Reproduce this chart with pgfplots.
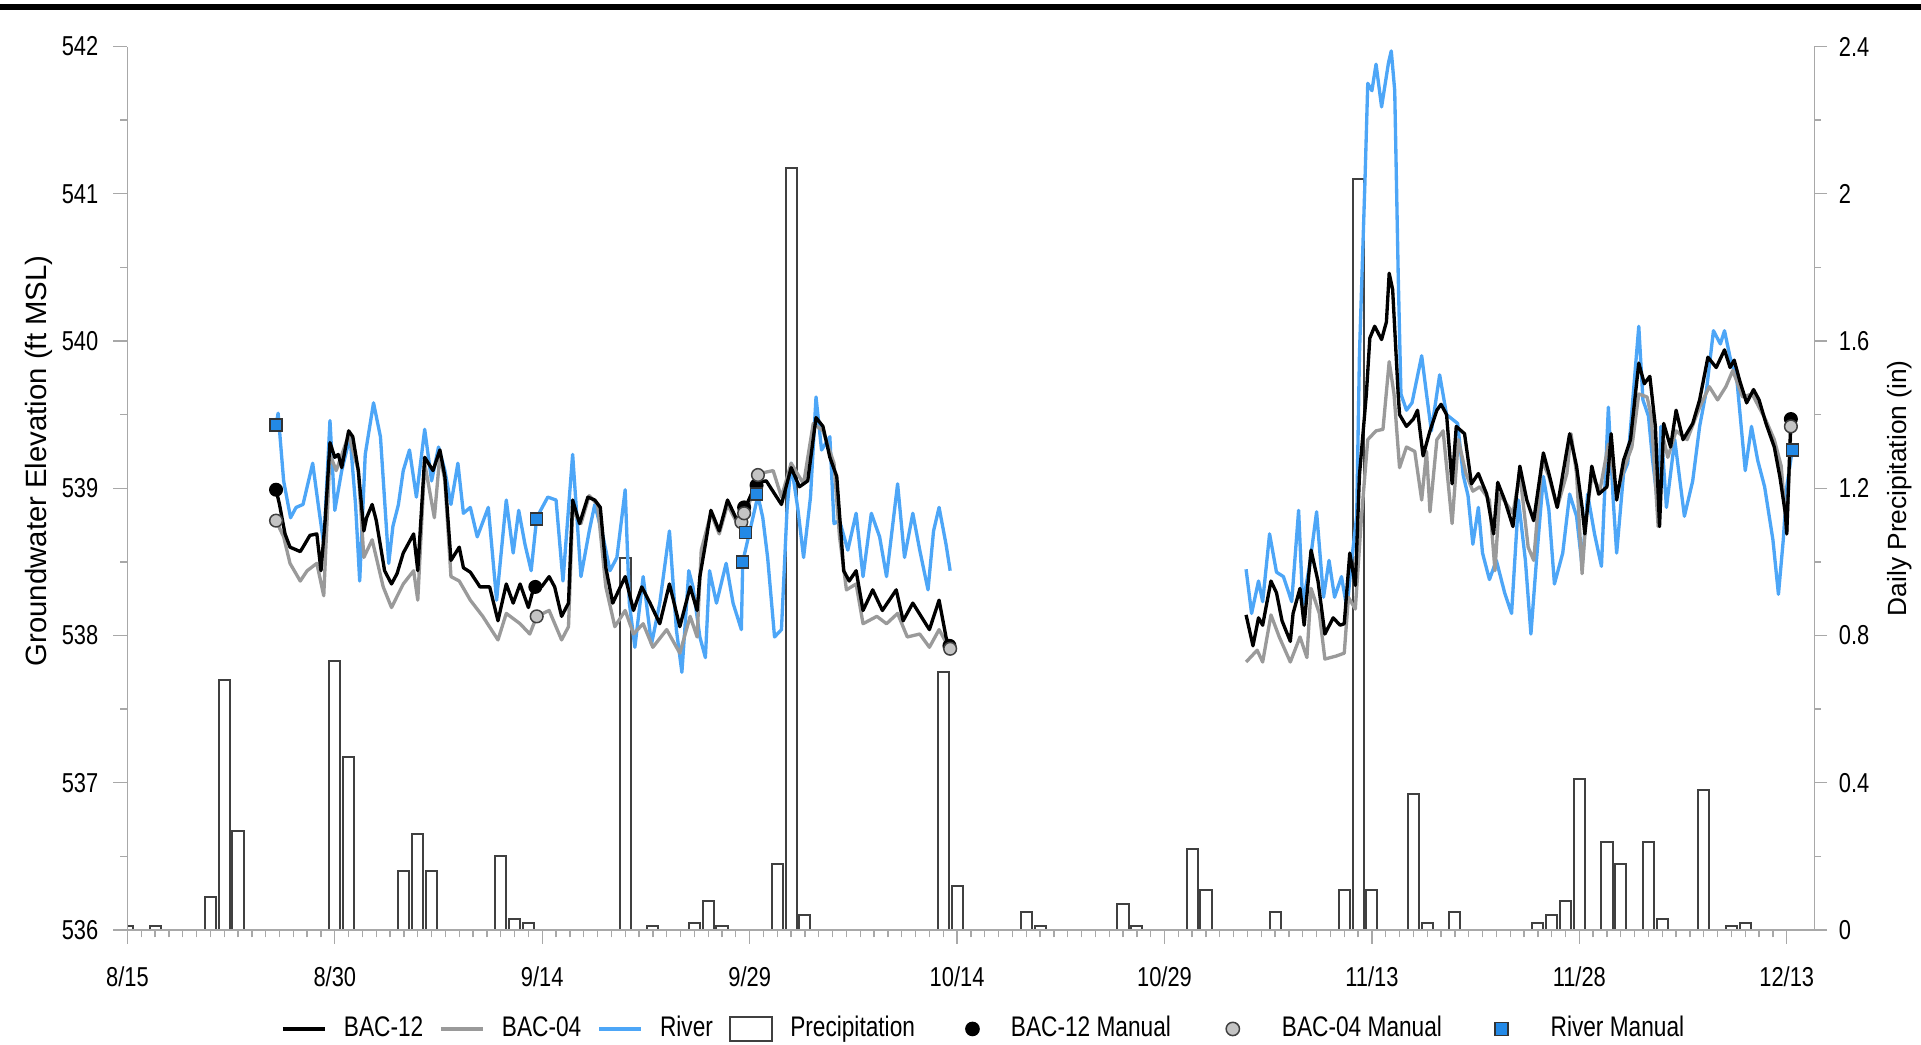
\documentclass[border=0pt]{standalone}
\usepackage{fontspec}
\setmainfont{Liberation Sans}
\newfontfamily\narrowfont{Liberation Sans}[FakeStretch=0.8]
\usepackage{pgfplots}
\pgfplotsset{compat=1.18}
\usepackage{pgfplotstable}

\definecolor{riverblue}{HTML}{4DA6F7}
\definecolor{bacgray}{HTML}{9A9A9A}
\definecolor{axisgray}{HTML}{A8A8A8}
\definecolor{markblue}{HTML}{2389E6}
\definecolor{markgray}{HTML}{C4C4C4}

\newcommand\tickfont{\narrowfont\fontsize{8.2}{9.5}\selectfont}
\newcommand\legfont{\narrowfont\fontsize{8.5}{10}\selectfont}

\pgfplotstableread{
x y
10.75 538.99
11.0 538.89
11.4 538.69
11.76 538.60
12.5 538.57
12.7 538.60
13.2 538.68
13.7 538.69
14.0 538.44
14.3 538.78
14.65 539.31
15.0 539.21
15.25 539.23
15.5 539.14
16.0 539.39
16.3 539.35
16.7 539.12
17.1 538.71
17.3 538.80
17.7 538.89
18.0 538.78
18.6 538.44
19.1 538.35
19.5 538.42
19.95 538.56
20.7 538.69
21.0 538.44
21.5 539.21
22.1 539.12
22.6 539.26
22.96 539.08
23.4 538.51
24.0 538.60
24.3 538.46
24.8 538.43
25.5 538.33
26.2 538.33
26.8 538.10
27.4 538.35
27.9 538.22
28.4 538.35
29.0 538.19
29.4 538.33
29.95 538.33
30.5 538.40
30.9 538.33
31.4 538.13
31.9 538.22
32.2 538.92
32.7 538.76
33.3 538.94
33.8 538.92
34.2 538.87
34.6 538.46
35.1 538.22
36.0 538.40
36.6 538.17
37.2 538.33
37.8 538.22
38.5 538.08
39.2 538.35
39.95 538.06
40.7 538.33
41.2 538.17
41.4 538.40
41.8 538.62
42.2 538.85
42.8 538.71
43.4 538.92
44.1 538.78
44.6 538.85
45.5 539.04
46.2 539.05
47.3 538.89
48.0 539.14
48.6 539.01
49.2 539.05
49.8 539.48
50.3 539.42
50.8 539.21
51.3 539.08
51.8 538.44
52.2 538.37
52.7 538.44
53.2 538.17
53.9 538.31
54.6 538.17
55.6 538.31
56.1 538.10
56.8 538.22
57.4 538.13
58.0 538.04
58.7 538.24
59.2 537.99
59.4 537.92
70 nan
80.9 538.14
81.4 537.93
81.8 538.12
82.1 538.07
82.7 538.37
83.1 538.29
83.5 538.10
84.1 537.96
84.3 538.15
84.8 538.32
85.1 538.07
85.6 538.58
86.1 538.37
86.6 538.01
87.2 538.12
87.7 538.07
88.0 538.08
88.4 538.56
88.8 538.34
89.1 539.09
89.6 539.64
89.85 540.02
90.2 540.10
90.7 540.01
91.05 540.13
91.25 540.46
91.5 540.35
91.9 539.64
92.0 539.50
92.5 539.42
93.0 539.47
93.3 539.53
93.7 539.22
94.2 539.39
94.7 539.53
95.0 539.57
95.4 539.50
95.8 539.03
96.1 539.42
96.7 539.37
97.2 539.03
97.7 539.10
98.3 538.96
98.8 538.69
99.1 539.04
99.6 538.92
100.2 538.74
100.7 539.15
101.2 538.92
101.7 538.78
102.4 539.24
102.8 539.10
103.4 538.87
104.3 539.37
104.8 539.15
105.2 538.87
105.4 538.69
105.9 539.15
106.4 538.96
107.0 539.01
107.3 539.37
107.7 538.92
108.2 539.19
108.7 539.33
109.3 539.85
109.7 539.71
110.1 539.76
110.5 539.42
110.8 538.74
111.1 539.44
111.6 539.28
112.0 539.53
112.5 539.33
113.2 539.44
113.7 539.60
114.3 539.89
114.9 539.82
115.5 539.94
115.9 539.82
116.2 539.87
116.6 539.73
117.1 539.58
117.6 539.67
118.0 539.60
118.5 539.44
119.1 539.28
119.5 539.08
119.9 538.83
120.0 538.69
120.3 539.47
}\bactwelve

\pgfplotstableread{
x y
10.75 538.78
11.3 538.67
11.76 538.49
12.5 538.37
13.0 538.44
13.7 538.49
14.2 538.27
14.65 539.23
15.1 539.12
16.0 539.36
16.7 539.12
17.1 538.53
17.7 538.65
18.5 538.33
19.1 538.19
19.95 538.35
20.7 538.44
21.0 538.24
21.5 539.17
22.2 538.80
22.6 539.23
22.96 539.05
23.4 538.40
24.0 538.37
24.8 538.24
25.7 538.13
26.8 537.97
27.4 538.15
28.4 538.08
29.1 538.01
29.6 538.13
30.5 538.17
31.4 537.97
31.9 538.06
32.2 538.85
32.8 538.76
33.4 538.95
34.0 538.89
34.6 538.33
35.25 538.06
36.0 538.17
36.6 538.01
37.3 538.08
38.0 537.92
39.0 538.04
39.95 537.88
40.7 538.13
41.2 537.99
41.5 538.58
42.2 538.83
42.8 538.69
43.4 538.89
44.1 538.76
44.5 538.77
45.7 539.10
46.7 539.12
47.3 538.94
48.0 539.17
48.9 539.03
49.6 539.44
50.3 539.39
51.1 539.17
51.5 538.67
52.0 538.31
52.7 538.35
53.2 538.08
54.2 538.13
54.9 538.08
55.7 538.15
56.4 537.99
57.3 538.01
58.0 537.92
58.7 538.04
59.4 537.92
70 nan
80.9 537.82
81.7 537.90
82.1 537.82
82.7 538.14
83.3 537.99
84.1 537.82
84.8 537.99
85.3 537.85
85.6 538.32
86.2 538.15
86.6 537.84
87.4 537.86
88.0 537.88
88.3 538.26
88.8 538.18
89.25 538.81
89.7 539.33
90.3 539.39
90.8 539.40
91.25 539.86
91.6 539.64
92.0 539.14
92.5 539.28
93.1 539.25
93.6 538.92
93.95 539.25
94.2 538.84
94.7 539.33
95.15 539.39
95.8 538.76
96.25 539.33
96.8 539.10
97.3 538.98
97.8 539.01
98.5 538.92
98.9 538.44
99.25 538.96
100.2 538.83
100.7 539.10
101.3 538.60
101.7 538.51
102.3 539.19
102.8 539.08
103.4 538.87
104.1 539.10
104.4 539.37
104.8 539.10
105.2 538.42
105.5 538.81
105.9 539.08
106.5 538.99
107.1 539.30
107.7 538.96
108.3 539.15
108.8 539.28
109.3 539.64
109.9 539.62
110.2 539.49
110.7 538.74
111.1 539.33
111.4 539.21
112.0 539.39
112.8 539.33
113.7 539.55
114.4 539.69
115.0 539.60
115.6 539.69
116.1 539.80
116.8 539.62
117.5 539.64
118.0 539.55
118.5 539.46
119.1 539.33
119.6 539.15
120.0 538.69
120.3 539.42
}\bacfour

\pgfplotstableread{
x y
10.75 539.43
10.9 539.51
11.3 539.05
11.8 538.80
12.2 538.87
12.7 538.89
13.4 539.17
13.8 538.89
14.2 538.62
14.65 539.46
15.0 538.85
15.5 539.12
16.1 539.35
16.5 538.89
16.8 538.37
17.2 539.23
17.8 539.58
18.3 539.35
18.9 538.49
19.2 538.74
19.6 538.89
19.95 539.12
20.4 539.26
20.9 538.94
21.5 539.40
22.0 539.05
22.5 539.28
22.96 539.12
23.4 538.89
23.9 539.17
24.3 538.83
24.8 538.87
25.3 538.67
26.1 538.87
26.7 538.24
27.4 538.92
27.9 538.56
28.3 538.85
28.75 538.62
29.2 538.44
29.6 538.80
30.4 538.94
31.0 538.92
31.5 538.37
32.2 539.23
32.8 538.40
33.4 538.71
33.8 538.89
34.4 538.67
34.9 538.44
35.4 538.53
36.0 538.99
36.3 538.22
36.7 537.92
37.3 538.40
37.9 537.94
38.5 538.22
39.2 538.71
39.7 538.04
40.1 537.75
40.6 538.44
40.9 538.33
41.4 537.99
41.8 537.85
42.1 538.44
42.6 538.22
43.3 538.49
43.8 538.22
44.4 538.04
44.5 538.50
45.6 538.95
45.95 538.80
46.3 538.53
46.8 537.99
47.3 538.04
47.7 538.85
48.0 539.17
48.5 538.85
48.9 538.53
49.4 538.94
49.8 539.62
50.2 539.26
50.8 539.35
51.1 538.76
51.5 538.78
52.1 538.58
52.7 538.83
53.2 538.40
53.8 538.83
54.4 538.67
54.9 538.40
55.7 539.03
56.2 538.53
56.8 538.83
57.3 538.58
57.9 538.31
58.3 538.71
58.7 538.87
59.2 538.62
59.5 538.44
70 nan
80.9 538.45
81.3 538.15
81.8 538.37
82.1 538.23
82.6 538.69
83.1 538.43
83.6 538.40
84.2 538.23
84.7 538.85
85.0 538.21
85.5 538.48
86.0 538.84
86.5 538.26
86.9 538.51
87.3 538.26
87.8 538.40
88.2 538.18
88.5 538.48
88.9 538.81
89.1 539.91
89.5 541.09
89.7 541.75
90.0 541.70
90.3 541.88
90.7 541.59
91.2 541.89
91.4 541.97
91.65 541.70
91.9 540.46
92.1 539.64
92.5 539.53
92.9 539.58
93.6 539.90
93.95 539.64
94.3 539.39
94.9 539.77
95.4 539.50
96.2 539.44
96.6 539.09
96.95 538.95
97.3 538.62
97.7 538.87
98.0 538.56
98.5 538.38
99.0 538.51
99.6 538.29
100.1 538.15
100.6 538.92
101.1 538.51
101.5 538.01
101.9 538.51
102.4 539.08
102.8 538.85
103.2 538.35
103.8 538.56
104.3 538.96
104.8 538.81
105.2 538.47
105.6 538.96
106.1 538.69
106.6 538.47
107.1 539.55
107.45 538.92
107.7 538.56
108.2 539.10
108.5 539.17
108.9 539.64
109.3 540.10
109.6 539.60
110.0 539.49
110.3 539.19
110.7 538.87
110.9 539.42
111.3 538.87
111.9 539.33
112.6 538.81
113.2 539.05
113.7 539.42
114.2 539.67
114.7 540.07
115.2 539.98
115.5 540.07
115.9 539.89
116.4 539.73
117.0 539.12
117.45 539.42
117.9 539.19
118.4 539.01
119.0 538.65
119.4 538.28
119.75 538.65
120.0 539.01
120.4 539.26
}\river

\pgfplotstableread{
x y
0 0.01
2 0.01
6 0.09
7 0.68
8 0.27
15 0.73
16 0.47
20 0.16
21 0.26
22 0.16
27 0.20
28 0.03
29 0.02
36 1.01
38 0.01
41 0.02
42 0.08
43 0.01
47 0.18
48 2.07
49 0.04
59 0.70
60 0.12
65 0.05
66 0.01
72 0.07
73 0.01
77 0.22
78 0.11
83 0.05
88 0.11
89 2.04
90 0.11
93 0.37
94 0.02
96 0.05
102 0.02
103 0.04
104 0.08
105 0.41
107 0.24
108 0.18
110 0.24
111 0.03
114 0.38
116 0.01
117 0.02
}\precip

\pgfplotstableread{
x y
10.75 538.99
29.5 538.33
44.6 538.87
45.5 539.02
59.45 537.93
120.3 539.47
}\bactwelveman

\pgfplotstableread{
x y
10.75 538.78
29.6 538.13
44.4 538.77
44.6 538.83
45.6 539.09
59.5 537.91
120.3 539.42
}\bacfourman

\pgfplotstableread{
x y
10.75 539.43
29.6 538.79
44.5 538.50
44.7 538.70
45.5 538.96
120.4 539.26
}\riverman

\begin{document}
\begin{tikzpicture}
% precipitation (right axis)
\begin{axis}[
  at={(0,0)}, anchor=south west, scale only axis,
  width=506.1pt, height=265.05pt,
  xmin=0, xmax=122, ymin=0, ymax=2.4,
  axis x line=none, axis y line*=right,
  axis line style={draw=axisgray, line width=0.4pt},
  ytick={0,0.4,0.8,1.2,1.6,2,2.4},
  minor y tick num=1,
  tick align=outside,
  major tick length=3.8pt, minor tick length=2pt,
  tick style={draw=axisgray, line width=0.4pt},
  tick label style={font=\tickfont, text=black},
  /pgf/number format/assume math mode=true,
  ylabel={Daily Precipitation (in)},
  ylabel style={font=\fontsize{7.9}{9}\selectfont, at={(axis description cs:1.0507,0.50)}, anchor=center},
]
\addplot[ybar, bar width=0.8, draw=black!75, fill=white, line width=0.6pt] table[x=x,y=y] {\precip};
\end{axis}
% groundwater (left axis)
\begin{axis}[
  at={(0,0)}, anchor=south west, scale only axis,
  width=506.1pt, height=265.05pt,
  xmin=0, xmax=122, ymin=536, ymax=542,
  axis x line*=bottom, axis y line*=left,
  axis line style={draw=axisgray, line width=0.4pt},
  xtick={0,15,...,120},
  xticklabels={8/15,8/30,9/14,9/29,10/14,10/29,11/13,11/28,12/13},
  minor x tick num=14,
  ytick={536,537,...,542},
  minor y tick num=1,
  tick align=outside,
  major tick length=4.2pt, minor tick length=2.2pt,
  tick style={draw=axisgray, line width=0.4pt},
  tick label style={font=\tickfont, text=black},
  xticklabel style={yshift=-3.3pt},
  yticklabel style={xshift=-1pt},
  /pgf/number format/assume math mode=true,
  ylabel={Groundwater Elevation (ft MSL)},
  ylabel style={font=\fontsize{8.8}{10}\selectfont, at={(axis description cs:-0.0524,0.531)}, anchor=center},
  unbounded coords=jump,
  legend style={at={(axis description cs:0.509,-0.112)}, anchor=center,
    draw=none, fill=none, font=\legfont, legend columns=-1,
    /tikz/every odd column/.append style={column sep=3.3pt},
    /tikz/every even column/.append style={column sep=2.8pt}},
]
\addplot[riverblue, line width=1pt, line join=round, mark=none, forget plot] table[x=x,y=y] {\river};
\addplot[bacgray, line width=1pt, line join=round, mark=none, forget plot] table[x=x,y=y] {\bacfour};
\addplot[black, line width=1pt, line join=round, mark=none, forget plot] table[x=x,y=y] {\bactwelve};
\addplot[only marks, mark=*, mark size=1.9pt, mark options={fill=black, draw=black}, forget plot] table[x=x,y=y] {\bactwelveman};
\addplot[only marks, mark=*, mark size=1.9pt, mark options={fill=markgray, draw=black!75, line width=0.45pt}, forget plot] table[x=x,y=y] {\bacfourman};
\addplot[only marks, mark=square*, mark size=1.8pt, mark options={fill=markblue, draw=black!80, line width=0.45pt}, forget plot] table[x=x,y=y] {\riverman};

\addlegendimage{legend image code/.code={\draw[black, line width=1pt] (0pt,0pt) -- (12.5pt,0pt);}}
\addlegendentry{BAC-12}
\addlegendimage{legend image code/.code={\draw[bacgray, line width=1pt] (0pt,0pt) -- (12.5pt,0pt);}}
\addlegendentry{BAC-04}
\addlegendimage{legend image code/.code={\draw[riverblue, line width=1pt] (0pt,0pt) -- (12.5pt,0pt);}}
\addlegendentry{River}
\addlegendimage{legend image code/.code={\draw[draw=black!75, fill=white, line width=0.6pt] (0pt,-3.6pt) rectangle (12.5pt,3.6pt);}}
\addlegendentry{Precipitation\rule{6.2pt}{0pt}}
\addlegendimage{legend image code/.code={\path[draw=none,fill=none] (0pt,0pt) -- (12.5pt,0pt); \fill[black] (6.25pt,0pt) circle (2pt);}}
\addlegendentry{BAC-12 Manual\rule{7.5pt}{0pt}}
\addlegendimage{legend image code/.code={\path[draw=none,fill=none] (0pt,0pt) -- (12.5pt,0pt); \draw[fill=markgray, draw=black!75, line width=0.45pt] (6.25pt,0pt) circle (2pt);}}
\addlegendentry{\hspace{3.2pt}BAC-04 Manual\rule{6.8pt}{0pt}}
\addlegendimage{legend image code/.code={\path[draw=none,fill=none] (0pt,0pt) -- (12.5pt,0pt); \draw[fill=markblue, draw=black!80, line width=0.45pt] (4.3pt,-2pt) rectangle (8.2pt,2pt);}}
\addlegendentry{\hspace{3.2pt}River Manual}
\end{axis}
\draw[line width=1.8pt] (-38.22pt,276.9pt) -- (538.08pt,276.9pt);
\pgfresetboundingbox
\useasboundingbox (-38.22pt,-34.5pt) rectangle (538.08pt,279pt);
\end{tikzpicture}
\end{document}
